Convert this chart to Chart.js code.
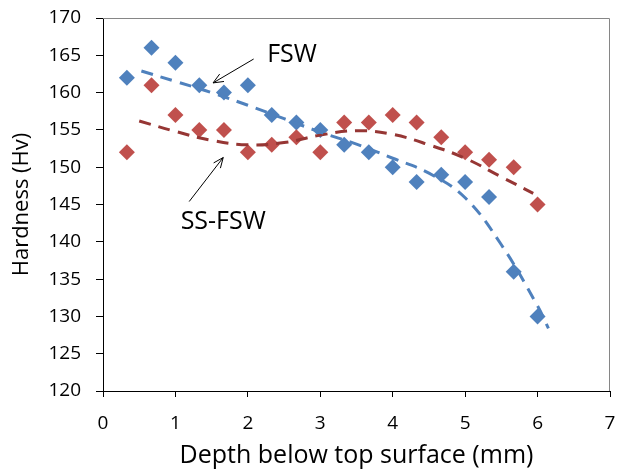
<!DOCTYPE html>
<html>
<head>
<meta charset="utf-8">
<script src="https://cdn.jsdelivr.net/npm/chart.js@4.4.1/dist/chart.umd.min.js"></script>
<style>
  html, body { margin: 0; padding: 0; background: #fff; }
  #wrap { width: 619px; height: 471px; }
</style>
</head>
<body>
<div id="wrap"><canvas id="hardnessChart" width="619" height="471"></canvas></div>
<script>
// measured depths (mm), one hardness reading every third of a mm
var depth = [0.33, 0.67, 1, 1.33, 1.67, 2, 2.33, 2.67, 3, 3.33, 3.67, 4, 4.33, 4.67, 5, 5.33, 5.67, 6];
var fsw   = [162, 166, 164, 161, 160, 161, 157, 156, 155, 153, 152, 150, 148, 149, 148, 146, 136, 130];
var ssFsw = [152, 161, 157, 155, 155, 152, 153, 154, 152, 156, 156, 157, 156, 154, 152, 151, 150, 145];

// trend lines
var fswTrendX = [0.53, 1, 1.5, 2, 2.5, 3, 3.5, 4, 4.5, 5, 5.5, 6, 6.15];
var fswTrendY = [162.9, 161.5, 160, 158.3, 156.5, 154.7, 153.1, 151.2, 149.2, 145.9, 139.6, 131.4, 128.4];
var ssTrendX = [0.5, 1, 1.5, 2, 2.5, 3, 3.5, 4, 4.5, 5, 5.5, 5.94];
var ssTrendY = [156.2, 154.8, 153.6, 153.0, 153.3, 154.3, 154.9, 154.4, 153.0, 151.2, 148.7, 146.5];

// callout labels (data units)
var noteText = ['FSW', 'SS-FSW'];
var noteAt = [[2.61, 165.05], [1.66, 142.7]];
var arrowFrom = [[2.08, 164.5], [1.19, 145.4]];
var arrowTo = [[1.52, 161.3], [1.66, 151.3]];

var fontFamily = '"Open Sans", "Liberation Sans", sans-serif';

function toPoints(xs, ys) {
    return xs.map((x, i) => ({ x: x, y: ys[i] }));
}

// keep the plot area where layout.padding puts it
function noLabelPadding(scale) {
    scale.paddingTop = 0;
    scale.paddingBottom = 0;
    scale.paddingLeft = 0;
    scale.paddingRight = 0;
}

// grey frame on top and right of the plot area
var framePlugin = {
    id: 'frame',
    beforeDatasetsDraw: function (chart) {
        var a = chart.chartArea;
        var c = chart.ctx;
        c.save();
        c.strokeStyle = '#868686';
        c.lineWidth = 1;
        c.beginPath();
        c.moveTo(a.left, a.top + 0.5);
        c.lineTo(a.right - 0.5, a.top + 0.5);
        c.lineTo(a.right - 0.5, a.bottom);
        c.stroke();
        c.restore();
    }
};

var calloutPlugin = {
    id: 'callouts',
    afterDatasetsDraw: function (chart) {
        var c = chart.ctx;
        var xs = chart.scales.x;
        var ys = chart.scales.y;
        c.save();
        c.strokeStyle = '#000';
        c.fillStyle = '#000';
        c.lineWidth = 1;
        for (var i = 0; i < noteText.length; i++) {
            var x1 = xs.getPixelForValue(arrowFrom[i][0]);
            var y1 = ys.getPixelForValue(arrowFrom[i][1]);
            var x2 = xs.getPixelForValue(arrowTo[i][0]);
            var y2 = ys.getPixelForValue(arrowTo[i][1]);
            var ang = Math.atan2(y2 - y1, x2 - x1);
            c.beginPath();
            c.moveTo(x1, y1);
            c.lineTo(x2, y2);
            c.moveTo(x2 - 11 * Math.cos(ang - 0.4), y2 - 11 * Math.sin(ang - 0.4));
            c.lineTo(x2, y2);
            c.lineTo(x2 - 11 * Math.cos(ang + 0.4), y2 - 11 * Math.sin(ang + 0.4));
            c.stroke();

            c.font = '25px ' + fontFamily;
            c.textAlign = 'center';
            c.textBaseline = 'middle';
            c.fillText(noteText[i], xs.getPixelForValue(noteAt[i][0]), ys.getPixelForValue(noteAt[i][1]));
        }
        c.restore();
    }
};

var ctx = document.getElementById('hardnessChart').getContext('2d');

new Chart(ctx, {
    type: 'scatter',
    data: {
        datasets: [{
            label: 'FSW trend',
            type: 'line',
            data: toPoints(fswTrendX, fswTrendY),
            borderColor: '#4F81BD',
            borderWidth: 3,
            borderDash: [12, 8],
            pointRadius: 0,
            tension: 0.4,
            fill: false,
            order: 0,
        }, {
            label: 'SS-FSW trend',
            type: 'line',
            data: toPoints(ssTrendX, ssTrendY),
            borderColor: '#963634',
            borderWidth: 3,
            borderDash: [12, 8],
            pointRadius: 0,
            tension: 0.4,
            fill: false,
            order: 0,
        }, {
            label: 'FSW',
            data: toPoints(depth, fsw),
            backgroundColor: '#4F81BD',
            borderColor: '#4F81BD',
            borderWidth: 0,
            pointStyle: 'rectRot',
            pointRadius: 8,
            order: 2,
        }, {
            label: 'SS-FSW',
            data: toPoints(depth, ssFsw),
            backgroundColor: '#C0504D',
            borderColor: '#C0504D',
            borderWidth: 0,
            pointStyle: 'rectRot',
            pointRadius: 8,
            order: 1,
        }],
    },
    options: {
        responsive: false,
        animation: false,
        devicePixelRatio: 1,
        layout: {
            padding: { top: 18, right: 9, left: 0, bottom: 0 },
        },
        plugins: {
            legend: { display: false },
            tooltip: { enabled: false },
        },
        scales: {
            x: {
                type: 'linear',
                min: 0,
                max: 7,
                afterFit: function (scale) {
                    scale.height = 80;
                    noLabelPadding(scale);
                },
                ticks: {
                    stepSize: 1,
                    color: '#000',
                    padding: 15,
                    font: { family: fontFamily, size: 19 },
                },
                grid: {
                    drawOnChartArea: false,
                    drawTicks: true,
                    tickLength: 6,
                    color: '#000',
                },
                border: { display: true, color: '#000', width: 1 },
                title: {
                    display: true,
                    text: 'Depth below top surface (mm)',
                    color: '#000',
                    font: { family: fontFamily, size: 25 },
                    padding: { top: 0, bottom: 0 },
                },
            },
            y: {
                min: 120,
                max: 170,
                afterFit: function (scale) {
                    scale.width = 103;
                    noLabelPadding(scale);
                },
                ticks: {
                    stepSize: 5,
                    color: '#000',
                    padding: 15,
                    font: { family: fontFamily, size: 19 },
                },
                grid: {
                    drawOnChartArea: false,
                    drawTicks: true,
                    tickLength: 7,
                    color: '#000',
                },
                border: { display: true, color: '#000', width: 1 },
                title: {
                    display: true,
                    text: 'Hardness (Hv)',
                    color: '#000',
                    font: { family: fontFamily, size: 22 },
                    padding: { top: 9, bottom: 0 },
                },
            },
        },
    },
    plugins: [framePlugin, calloutPlugin],
});
</script>
</body>
</html>
